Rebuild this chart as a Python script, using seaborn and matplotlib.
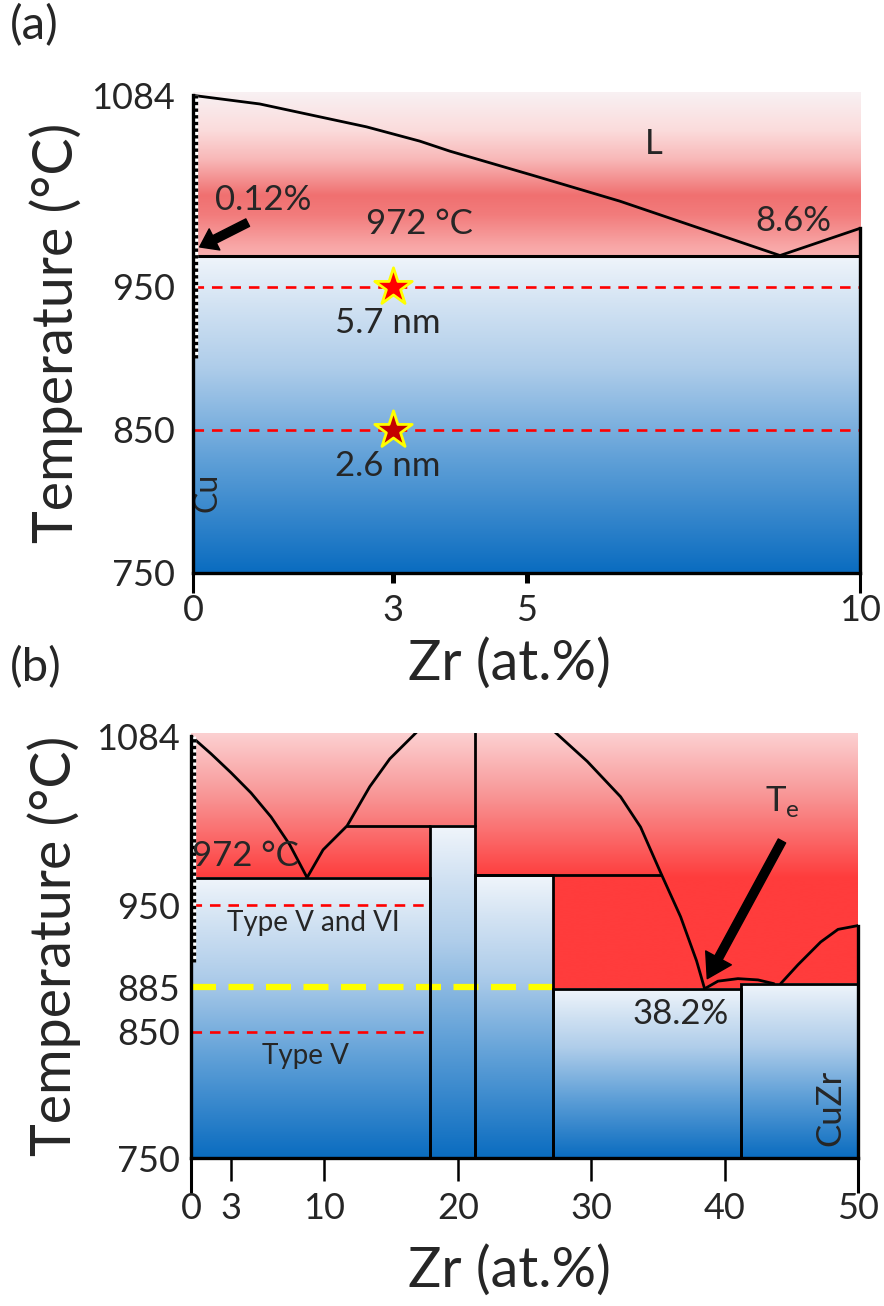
import numpy as np
import matplotlib
matplotlib.use('Agg')
import matplotlib.pyplot as plt
import matplotlib.transforms as mtransforms
from matplotlib.colors import LinearSegmentedColormap
from matplotlib.patches import Rectangle
import seaborn as sns

sns.set_theme(style='white')
plt.rcParams['font.family'] = ['Lato', 'DejaVu Sans']

# ---------------- panel (a): Cu-rich corner, 0-10 at.% Zr ----------------
a_liq_x = [0, 1.0, 1.7, 2.6, 3.4, 3.85, 5.1, 6.4, 7.6, 8.8, 10]
a_liq_t = [1084, 1078, 1071, 1062, 1052, 1045, 1028, 1010, 991, 972, 991]
a_eutectic_t = 972
a_solvus_t = [900, 1084]          # dotted solubility line at the Cu side
a_dash_t = [950, 850]
a_star_x = [3, 3]
a_star_t = [950, 850]
a_star_size = ['5.7 nm', '2.6 nm']
a_xticks = [3, 5]
a_xticks_end = [0, 10]
a_yticks = [1084, 950, 850, 750]

# ---------------- panel (b): 0-50 at.% Zr ----------------
b_phase_x0 = [0, 17.9, 21.3, 27.1, 41.2]
b_phase_x1 = [17.9, 21.3, 27.1, 41.2, 50]
b_phase_top = [972, 1013, 974, 884, 888]
b_liq1_x = [0, 1.5, 3.0, 4.5, 6.0, 7.4, 8.7]
b_liq1_t = [1084, 1070, 1055, 1039, 1020, 998, 972]
b_liq2_x = [8.7, 9.9, 11.7, 13.4, 14.9, 16.9]
b_liq2_t = [972, 994, 1013, 1044, 1066, 1087]
b_liq3_x = [27.3, 29.7, 32.2, 33.7, 35.2, 36.7, 37.9, 38.5]
b_liq3_t = [1087, 1064, 1036, 1012, 976, 941, 906, 884]
b_hump_x = [38.5, 39.5, 41.0, 42.5, 43.7]
b_hump_t = [884, 890, 892, 891, 888]
b_liq4_x = [44.2, 45.5, 47.2, 48.5, 50]
b_liq4_t = [888, 903, 921, 931, 934]
b_peritectic = [(11.7, 17.9, 1013), (21.3, 35.2, 974)]
b_solvus_t = [905, 1084]
b_red_dash_t = [950, 850]
b_red_dash_x1 = 17.9
b_yellow_t = 885
b_yellow_x1 = 27.1
b_xticks = [3, 10, 20, 30, 40]
b_xticks_end = [0, 50]
b_yticks = [1084, 950, 885, 850, 750]

T_MIN = 750
A_TOP = 1086.4
B_TOP = 1086.4

blue = LinearSegmentedColormap.from_list('solid', [
    (0.0, '#0a6cc0'), (0.35, '#5e9fd7'), (0.65, '#afcdea'),
    (0.85, '#d3e3f3'), (1.0, '#f0f5fb')])
pink = LinearSegmentedColormap.from_list('liq_a', [
    (0.0, '#f9b0b0'), (0.06, '#f8a6a6'), (0.25, '#f27c7c'), (0.37, '#f07070'),
    (0.59, '#f8b8b8'), (0.77, '#fbdcdc'), (1.0, '#f8f1f3')])
b_red_stop = (972 - T_MIN) / (B_TOP - T_MIN)
red = LinearSegmentedColormap.from_list('liq_b', [
    (0.0, '#ff3c3c'), (b_red_stop, '#ff3c3c'),
    (b_red_stop + (1 - b_red_stop) * 0.25, '#fb6464'),
    (b_red_stop + (1 - b_red_stop) * 0.6, '#f89a9a'),
    (1.0, '#fcd0d1')])

FS_TICK = 26
FS_TEXT = 25
FS_LABEL = 40


def gradient(ax, x0, x1, t0, t1, cmap, z=0):
    ramp = np.linspace(0, 1, 256).reshape(-1, 1)
    ax.imshow(ramp, extent=[x0, x1, t0, t1], origin='lower', aspect='auto',
              cmap=cmap, interpolation='bicubic', zorder=z)


def line(ax, x, y, **kw):
    sns.lineplot(x=x, y=y, sort=False, estimator=None, color='black',
                 lw=kw.pop('lw', 2), ax=ax, zorder=kw.pop('zorder', 3), **kw)


def solvus(ax, fig, t):
    off = ax.transData + mtransforms.ScaledTranslation(0.028, 0, fig.dpi_scale_trans)
    ax.plot([0, 0], t, color='white', lw=2.4, transform=off, zorder=4, solid_capstyle='butt')
    ax.plot([0, 0], t, color='black', lw=2.4, ls=(0, (1, 1)), transform=off, zorder=4)


def style_axes(ax, xmax, top, right_top, xt, xt_end, yt, major_len, major_w,
               minor_len, minor_w, xpad, ypad):
    ax.set_xlim(0, xmax)
    ax.set_ylim(T_MIN, top)
    ax.set_xticks(xt)
    ax.set_xticklabels([str(v) for v in xt])
    ax.set_xticks(xt_end, minor=True)
    ax.set_xticklabels([str(v) for v in xt_end], minor=True)
    ax.set_yticks(yt)
    ax.set_yticklabels([str(v) for v in yt])
    ax.tick_params(axis='x', which='major', direction='out', length=major_len,
                   width=major_w, color='black', pad=xpad, labelsize=FS_TICK,
                   bottom=True)
    ax.tick_params(axis='x', which='minor', direction='out', length=minor_len,
                   width=minor_w, color='black',
                   pad=xpad - (minor_len - major_len), labelsize=FS_TICK, bottom=True)
    ax.tick_params(axis='y', length=0, pad=ypad, labelsize=FS_TICK)
    ax.spines['top'].set_visible(False)
    for s in ('left', 'right', 'bottom'):
        ax.spines[s].set_color('black')
        ax.spines[s].set_linewidth(2.4)
        ax.spines[s].set_zorder(5)
    ax.spines['right'].set_bounds(T_MIN, right_top)
    ax.spines['left'].set_bounds(T_MIN, 1084)
    ax.set_xlabel('Zr (at.%)', fontsize=FS_LABEL)
    ax.set_ylabel('Temperature (°C)', fontsize=FS_LABEL)
    ax.yaxis.set_label_coords(-0.165, 0.5)


fig = plt.figure(figsize=(8.84, 13.06), dpi=100)
ax_a = fig.add_axes([0.2183, 0.5613, 0.7546, 0.3683])
ax_b = fig.add_axes([0.2161, 0.1133, 0.7545, 0.3254])

# ---------- (a) ----------
gradient(ax_a, 0, 10, T_MIN, a_eutectic_t, blue)
gradient(ax_a, 0, 10, a_eutectic_t, A_TOP, pink)
for t in a_dash_t:
    ax_a.plot([0, 10], [t, t], color='#ff0000', lw=1.9, ls=(0, (4, 3)), zorder=2)
line(ax_a, a_liq_x, a_liq_t)
line(ax_a, [0, 10], [a_eutectic_t, a_eutectic_t], lw=2.2)
solvus(ax_a, fig, a_solvus_t)
for x, t, fc, lab in zip(a_star_x, a_star_t, ['#ff0000', '#c40000'], a_star_size):
    sns.scatterplot(x=[x], y=[t], marker='*', s=800, color=fc, edgecolor='#ffff00',
                    linewidth=2, ax=ax_a, zorder=6, legend=False)
    ax_a.text(x - 0.08, t - 25, lab, fontsize=FS_TEXT, ha='center', va='center', zorder=6)
ax_a.text(6.9, 1050, 'L', fontsize=FS_TEXT, ha='center', va='center')
ax_a.text(0.33, 1011, '0.12%', fontsize=FS_TEXT, ha='left', va='center')
ax_a.text(3.4, 994, '972 °C', fontsize=FS_TEXT, ha='center', va='center')
ax_a.text(9.0, 996, '8.6%', fontsize=FS_TEXT, ha='center', va='center')
ax_a.text(0.22, 806, 'Cu', fontsize=FS_TEXT - 2, ha='center', va='center', rotation=90)
ax_a.annotate('', xy=(0.1, 978), xytext=(0.82, 995),
              arrowprops=dict(facecolor='black', edgecolor='black', width=6,
                              headwidth=17, headlength=12, shrink=0), zorder=6)
style_axes(ax_a, 10, A_TOP, 991, a_xticks, a_xticks_end, a_yticks,
           7, 3.6, 14.4, 2.2, 8, 13)
ax_a.xaxis.set_label_coords(0.475, -0.135)

# ---------- (b) ----------
gradient(ax_b, 0, 50, T_MIN, B_TOP, red)
for x0, x1, top in zip(b_phase_x0, b_phase_x1, b_phase_top):
    gradient(ax_b, x0, x1, T_MIN, top, blue, z=1)
    ax_b.add_patch(Rectangle((x0, T_MIN), x1 - x0, top - T_MIN, fill=False,
                             ec='black', lw=2, zorder=3))
for t in b_red_dash_t:
    ax_b.plot([0, b_red_dash_x1], [t, t], color='#ff0000', lw=1.9, ls=(0, (4, 3)), zorder=2)
ax_b.plot([0, b_yellow_x1], [b_yellow_t, b_yellow_t], color='#ffff00', lw=4.5,
          ls=(0, (4, 2)), zorder=2)
line(ax_b, b_liq1_x, b_liq1_t)
line(ax_b, b_liq2_x, b_liq2_t)
line(ax_b, b_liq3_x, b_liq3_t)
line(ax_b, b_hump_x, b_hump_t)
line(ax_b, b_liq4_x, b_liq4_t)
for x0, x1, t in b_peritectic:
    line(ax_b, [x0, x1], [t, t])
line(ax_b, [21.3, 21.3], [1013, B_TOP])
solvus(ax_b, fig, b_solvus_t)
ax_b.text(4.05, 989, '972 °C', fontsize=FS_TEXT, ha='center', va='center', zorder=6)
ax_b.text(9.2, 936, 'Type V and VI', fontsize=20, ha='center', va='center', zorder=6)
ax_b.text(8.6, 831, 'Type V', fontsize=20, ha='center', va='center', zorder=6)
ax_b.text(36.7, 864, '38.2%', fontsize=FS_TEXT, ha='center', va='center', zorder=6)
ax_b.text(47.9, 790, 'CuZr', fontsize=FS_TEXT, ha='center', va='center', rotation=90, zorder=6)
ax_b.text(44.3, 1032, r'T$_\mathregular{e}$', fontsize=FS_TEXT, ha='center', va='center', zorder=6)
ax_b.annotate('', xy=(38.7, 892), xytext=(44.3, 1001),
              arrowprops=dict(facecolor='black', edgecolor='black', width=6,
                              headwidth=21, headlength=17, shrink=0), zorder=6)
style_axes(ax_b, 50, B_TOP, 934, b_xticks, b_xticks_end, b_yticks,
           16.5, 1.8, 25, 2.2, 8, 8)
ax_b.xaxis.set_label_coords(0.478, -0.205)

fig.text(0.011, 0.997, '(a)', fontsize=34, ha='left', va='top')
fig.text(0.011, 0.505, '(b)', fontsize=34, ha='left', va='top')

fig.savefig('out.png', dpi=100)
